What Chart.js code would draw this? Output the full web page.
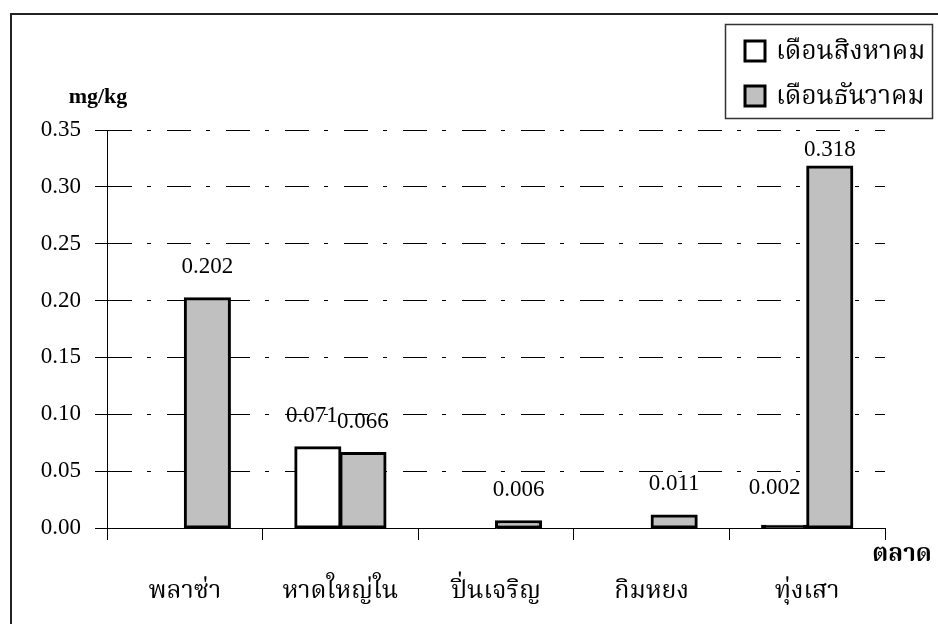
<!DOCTYPE html>
<html lang="th">
<head>
<meta charset="utf-8">
<title>ปริมาณตะกั่วในตัวอย่างจากตลาด</title>
<script src="https://cdn.jsdelivr.net/npm/chart.js@4/dist/chart.umd.min.js"></script>
<style>
  html, body { margin: 0; padding: 0; background: #fff; }
  #wrap { position: relative; width: 938px; height: 624px; }
</style>
</head>
<body>
<div id="wrap"><canvas id="leadChart" width="938" height="624"></canvas></div>
<script>
// Markets and measured values (mg/kg)
const markets = ["พลาซ่า", "หาดใหญ่ใน", "ปิ่นเจริญ", "กิมหยง", "ทุ่งเสา"]
const augustValues = [null, 0.071, null, null, 0.002]
const decemberValues = [0.202, 0.066, 0.006, 0.011, 0.318]
const seriesNames = ["เดือนสิงหาคม", "เดือนธันวาคม"]
const yMin = 0
const yMax = 0.35
const yStep = 0.05

const SERIF = "'Liberation Serif', 'Times New Roman', 'Noto Serif Thai', 'Noto Sans Thai', serif"

// bars too short to show their fill come out as a solid black sliver
function fillFor(color) {
  return (c) => (c.raw !== null && c.raw < 0.004 ? "#000000" : color)
}

// outer frame line along the top and left
const framePlugin = {
  id: "frame",
  beforeDraw(chart) {
    const ctx = chart.ctx
    ctx.save()
    ctx.fillStyle = "#fff"
    ctx.fillRect(0, 0, chart.width, chart.height)
    ctx.strokeStyle = "#222"
    ctx.lineWidth = 2
    ctx.beginPath()
    ctx.moveTo(11, chart.height)
    ctx.lineTo(11, 14)
    ctx.lineTo(chart.width, 14)
    ctx.stroke()
    ctx.restore()
  },
}

// axis titles: unit above the value axis, "ตลาด" at the end of the category axis
const axisTitlesPlugin = {
  id: "axisTitles",
  afterDraw(chart) {
    const { ctx, chartArea } = chart
    ctx.save()
    ctx.fillStyle = "#000"
    ctx.font = "bold 22px " + SERIF
    ctx.textAlign = "center"
    ctx.textBaseline = "alphabetic"
    ctx.fillText("mg/kg", chartArea.left - 9, chartArea.top - 27)
    ctx.font = "bold 24px " + SERIF
    ctx.fillText("ตลาด", chartArea.right + 17, chartArea.bottom + 33)
    ctx.restore()
  },
}

// value labels above each bar
const valueLabelsPlugin = {
  id: "valueLabels",
  afterDatasetsDraw(chart) {
    const ctx = chart.ctx
    ctx.save()
    ctx.fillStyle = "#000"
    ctx.font = "23px " + SERIF
    ctx.textAlign = "center"
    ctx.textBaseline = "alphabetic"
    chart.data.datasets.forEach((ds, di) => {
      const meta = chart.getDatasetMeta(di)
      meta.data.forEach((bar, i) => {
        const v = ds.data[i]
        if (v === null || v === undefined) return
        let lift = 25
        let shift = 0
        if (v === 0.318) lift = 10
        if (v === 0.002) { lift = 32; shift = -10 }
        if (v === 0.071) shift = -6
        ctx.fillText(v.toFixed(3), bar.x + shift, bar.y - lift)
      })
    })
    ctx.restore()
  },
}

// boxed legend in the upper right corner
const boxLegendPlugin = {
  id: "boxLegend",
  afterDraw(chart) {
    const ctx = chart.ctx
    const left = 725, top = 24, w = 207, h = 94
    ctx.save()
    ctx.fillStyle = "#fff"
    ctx.fillRect(left, top, w, h)
    ctx.strokeStyle = "#333"
    ctx.lineWidth = 1.5
    ctx.strokeRect(left + 0.5, top + 0.5, w, h)
    ctx.font = "26px " + SERIF
    ctx.textAlign = "left"
    ctx.textBaseline = "middle"
    chart.data.datasets.forEach((ds, i) => {
      const cy = top + 27 + i * 45
      ctx.fillStyle = ds.legendColor
      ctx.fillRect(745, cy - 10, 20, 20)
      ctx.strokeStyle = "#000"
      ctx.lineWidth = 3
      ctx.strokeRect(745, cy - 10, 20, 20)
      ctx.fillStyle = "#000"
      ctx.fillText(ds.label, 776, cy + 1)
    })
    ctx.restore()
  },
}

const ctx = document.getElementById("leadChart").getContext("2d")
new Chart(ctx, {
  type: "bar",
  data: {
    labels: markets,
    datasets: [
      {
        label: seriesNames[0],
        data: augustValues,
        legendColor: "#ffffff",
        backgroundColor: fillFor("#ffffff"),
        borderColor: "#000000",
        borderWidth: 3,
        borderSkipped: false,
        inflateAmount: 1,
      },
      {
        label: seriesNames[1],
        data: decemberValues,
        legendColor: "#c0c0c0",
        backgroundColor: fillFor("#c0c0c0"),
        borderColor: "#000000",
        borderWidth: 3,
        borderSkipped: false,
        inflateAmount: 1,
      },
    ],
  },
  options: {
    responsive: false,
    animation: false,
    devicePixelRatio: 1,
    layout: {
      padding: { left: 10, top: 130, right: 53, bottom: 0 },
    },
    datasets: {
      bar: {
        categoryPercentage: 0.58,
        barPercentage: 1.0,
      },
    },
    plugins: {
      legend: { display: false },
      tooltip: { enabled: false },
    },
    scales: {
      x: {
        offset: true,
        grid: {
          offset: true,
          drawOnChartArea: false,
          drawTicks: true,
          tickLength: 12,
          color: "#000",
          tickColor: "#000",
        },
        border: { display: true, color: "#000", width: 1 },
        ticks: {
          color: "#000",
          font: { family: SERIF, size: 25 },
          padding: 36,
          maxRotation: 0,
          autoSkip: false,
        },
        afterFit(scale) {
          scale.height = 96
        },
      },
      y: {
        min: yMin,
        max: yMax,
        grid: {
          color: "#000",
          lineWidth: 1,
          drawTicks: true,
          tickLength: 12,
          tickColor: "#000",
          tickBorderDash: [],
        },
        border: { display: true, color: "#000", width: 1, dash: [24, 15, 4, 16] },
        ticks: {
          stepSize: yStep,
          color: "#000",
          font: { family: SERIF, size: 23 },
          padding: 14,
          callback: (v) => Number(v).toFixed(2),
        },
        afterFit(scale) {
          scale.width = 97
        },
      },
    },
  },
  plugins: [framePlugin, valueLabelsPlugin, axisTitlesPlugin, boxLegendPlugin],
})
</script>
</body>
</html>
